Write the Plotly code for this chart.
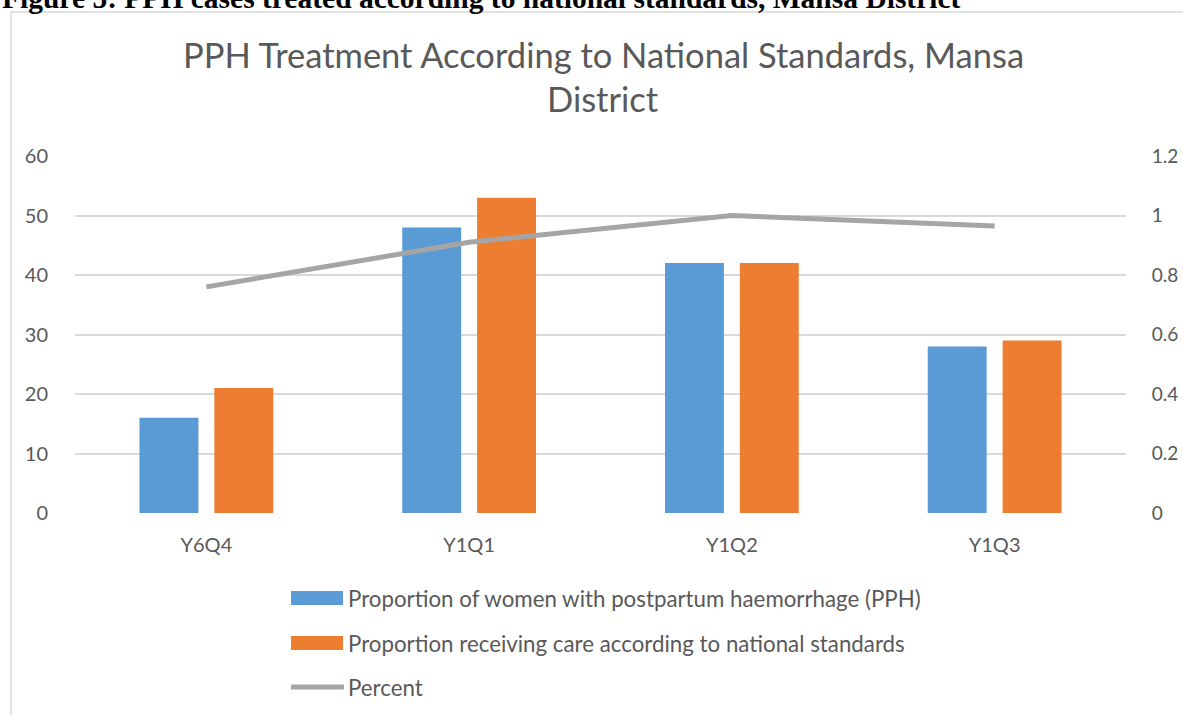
import plotly.graph_objects as go

# ---- data ----
categories = ["Y6Q4", "Y1Q1", "Y1Q2", "Y1Q3"]
pph_women = [16, 48, 42, 28]
care_national = [21, 53, 42, 29]
percent = [0.76, 0.91, 1.0, 0.965]
left_ticks = [0, 10, 20, 30, 40, 50, 60]
right_ticks = [0, 0.2, 0.4, 0.6, 0.8, 1.0, 1.2]

series_names = [
    "Proportion of women with postpartum haemorrhage (PPH)",
    "Proportion receiving care according to national standards",
    "Percent",
]
title_lines = ["PPH Treatment According to National Standards, Mansa", "District"]
header = "Figure 5: PPH cases treated according to national standards, Mansa District"

BLUE = "#5B9BD5"
ORANGE = "#ED7D31"
GRAY = "#A5A5A5"
TXT = "#595959"
GRID = "#D9D9D9"
FONT = "Lato"

W, H = 1183, 715
L, R, T, B = 75, 57, 156, 202
PW = W - L - R
PH = H - T - B


def px(x):
    return (x - L) / PW


def py(y):
    return (H - B - y) / PH


fig = go.Figure()
fig.add_trace(go.Bar(x=categories, y=pph_women, name=series_names[0],
                     marker=dict(color=BLUE, line=dict(width=0)), showlegend=False))
fig.add_trace(go.Bar(x=categories, y=care_national, name=series_names[1],
                     marker=dict(color=ORANGE, line=dict(width=0)), showlegend=False))
fig.add_trace(go.Scatter(x=categories, y=percent, name=series_names[2], yaxis="y2",
                         mode="lines", line=dict(color=GRAY, width=5), showlegend=False))

shapes = [
    # outer frame
    dict(type="rect", xref="paper", yref="paper", x0=px(11), x1=px(1210), y0=py(12), y1=py(740),
         line=dict(color=GRID, width=1.5), fillcolor="rgba(0,0,0,0)", layer="below"),
    # legend swatches
    dict(type="rect", xref="paper", yref="paper", x0=px(291), x1=px(343), y0=py(591), y1=py(605),
         fillcolor=BLUE, line=dict(width=0)),
    dict(type="rect", xref="paper", yref="paper", x0=px(291), x1=px(343), y0=py(636), y1=py(650),
         fillcolor=ORANGE, line=dict(width=0)),
    dict(type="line", xref="paper", yref="paper", x0=px(291), x1=px(344), y0=py(687), y1=py(687),
         line=dict(color=GRAY, width=5)),
]

annotations = [
    dict(text=title_lines[0], xref="paper", yref="paper", x=px(603), y=py(55), xanchor="center",
         yanchor="middle", showarrow=False, font=dict(family=FONT, size=34.5, color=TXT)),
    dict(text=title_lines[1], xref="paper", yref="paper", x=px(603), y=py(99), xanchor="center",
         yanchor="middle", showarrow=False, font=dict(family=FONT, size=34.5, color=TXT)),
    dict(text="<b>" + header + "</b>", xref="paper", yref="paper", x=px(0), y=py(16), xanchor="left",
         yanchor="bottom", showarrow=False, font=dict(family="Liberation Serif", size=29.5, color="black")),
]
for name, yc in zip(series_names, [598, 643, 687]):
    annotations.append(dict(text=name, xref="paper", yref="paper", x=px(346), y=py(yc),
                            xanchor="left", yanchor="middle", showarrow=False,
                            font=dict(family=FONT, size=22.3, color=TXT)))

fig.update_layout(
    width=W, height=H,
    margin=dict(l=L, r=R, t=T, b=B, pad=0, autoexpand=False),
    paper_bgcolor="white", plot_bgcolor="white",
    font=dict(family=FONT, color=TXT),
    barmode="group", bargap=0.43, bargroupgap=0.213,
    showlegend=False,
    shapes=shapes, annotations=annotations,
    xaxis=dict(showgrid=False, showline=False, zeroline=False, ticks="outside", ticklen=14,
               automargin=False,
               tickcolor="rgba(0,0,0,0)", tickfont=dict(family=FONT, size=20, color=TXT)),
    yaxis=dict(range=[0, 60], tickvals=left_ticks, showgrid=True, gridcolor=GRID, gridwidth=1.5,
               zeroline=False, showline=False, ticks="outside", ticklen=22, automargin=False,
               tickcolor="rgba(0,0,0,0)", tickfont=dict(family=FONT, size=20, color=TXT)),
    yaxis2=dict(range=[0, 1.2], tickvals=right_ticks, overlaying="y", side="right", showgrid=False,
                zeroline=False, showline=False, ticks="outside", ticklen=21, automargin=False,
                tickcolor="rgba(0,0,0,0)", tickfont=dict(family=FONT, size=19, color=TXT)),
)

fig.write_html("out.html", config={"displayModeBar": False},
               post_script="document.body.style.margin='0';document.body.style.overflow='hidden';")
